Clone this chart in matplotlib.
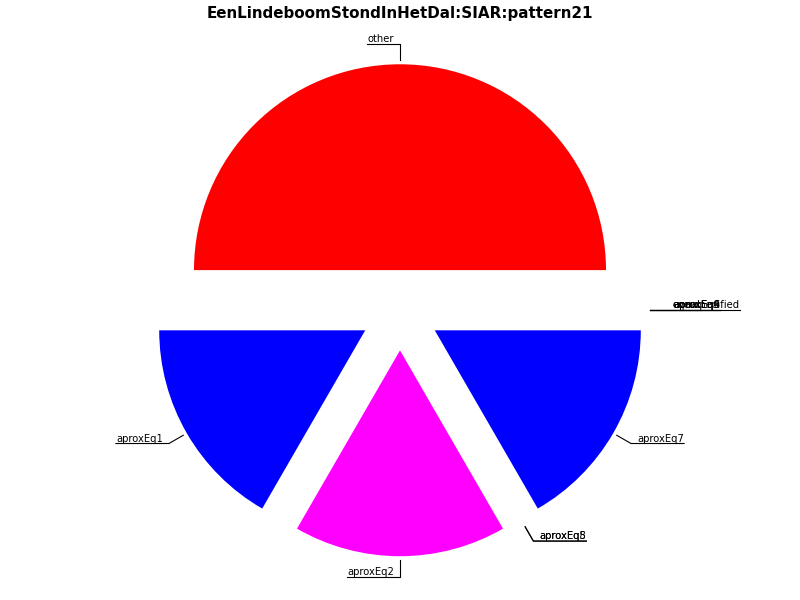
import numpy as np
import matplotlib
matplotlib.use("Agg")
import matplotlib.pyplot as plt

TITLE = "EenLindeboomStondInHetDal:SIAR:pattern21"
labels = ["other", "aproxEq1", "aproxEq2", "aproxEq5", "aproxEq8", "aproxEq7",
          "aproxEq4", "aproxEq6", "aproxEq9", "equal", "overspecified"]
values = [3, 1, 1, 0, 0, 1, 0, 0, 0, 0, 0]
colors = ["#ff0000", "#0000ff", "#ff00ff", "#00ff00", "#00ffff", "#0000ff",
          "#ffff00", "#888888", "#ff8800", "#00aa00", "#aa00aa"]

EXPLODE = 0.195
ELBOW = 1.295
GAP = 0.03

fig = plt.figure(figsize=(8, 6), dpi=100)
ax = fig.add_axes([0, 0, 1, 1])
ax.pie(values, colors=colors, explode=[EXPLODE] * len(values), startangle=0,
       counterclock=True, wedgeprops=dict(linewidth=0))
ax.set_xlim(-400 / 206, 400 / 206)
ax.set_ylim(-290 / 206, 310.5 / 206)
ax.set_aspect("auto")
ax.axis("off")

total = float(sum(values))
start = 0.0
for lab, v in zip(labels, values):
    frac = v / total
    mid = np.deg2rad(360.0 * (start + frac / 2))
    start += frac
    c, s = np.cos(mid), np.sin(mid)
    # line starts a bit outside the wedge edge, bends at the elbow, then runs under the text
    x0, y0 = (1 + EXPLODE + 0.02) * c, (1 + EXPLODE + 0.02) * s
    x1, y1 = ELBOW * c, ELBOW * s
    right = c > 1e-6
    if right:
        t = ax.text(x1 + GAP, y1, lab, ha="left", va="bottom", fontsize=7.2)
    else:
        t = ax.text(x1 - GAP, y1, lab, ha="right", va="bottom", fontsize=7.2)
    fig.canvas.draw()
    bb = t.get_window_extent().transformed(ax.transData.inverted())
    xend = bb.x1 if right else bb.x0
    ax.plot([x0, x1, xend], [y0, y1, y1], color="black", lw=0.8)

fig.text(0.5, 0.978, TITLE, ha="center", va="center", fontsize=10.9, fontweight="bold")
fig.savefig("out.png", dpi=100)
